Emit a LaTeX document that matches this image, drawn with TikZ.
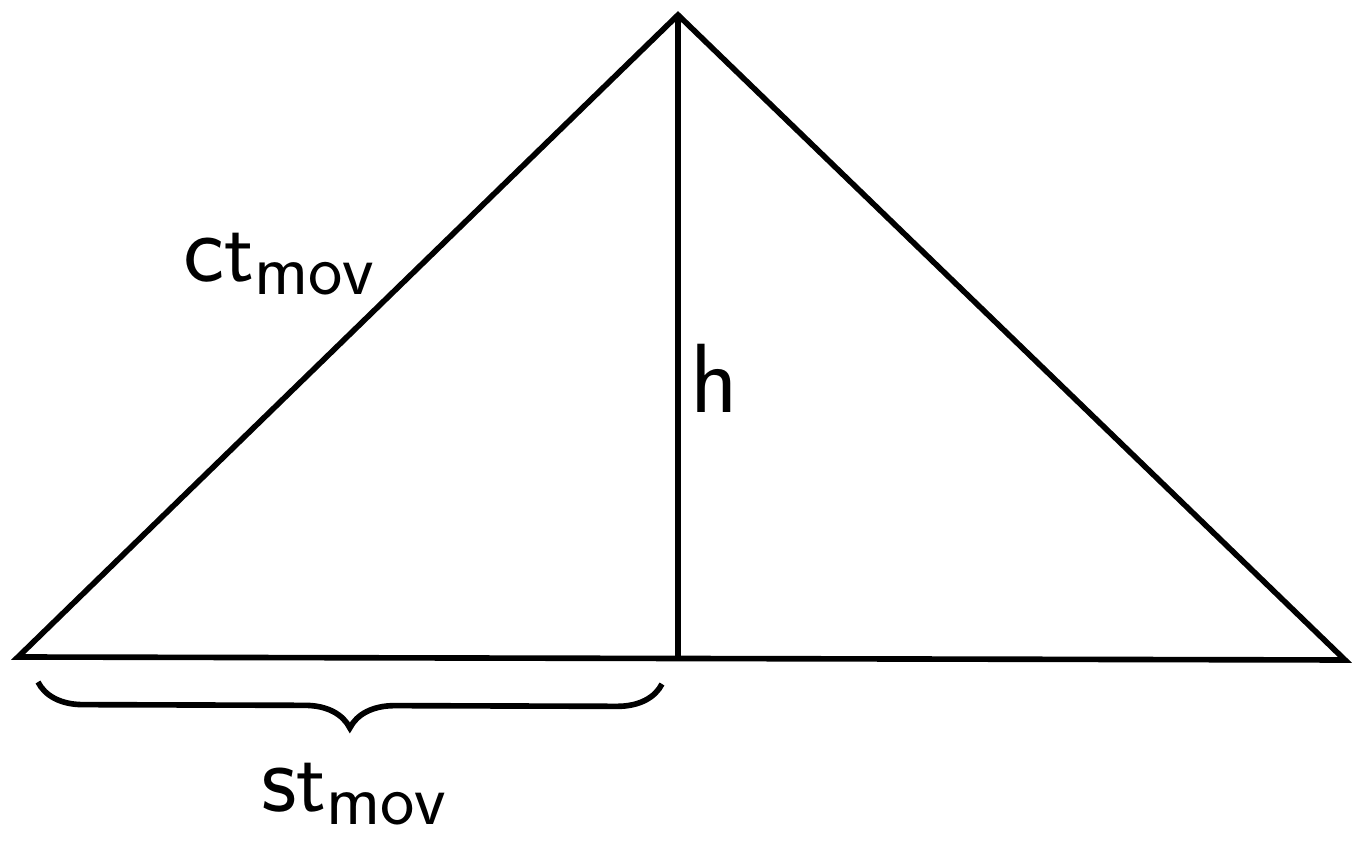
\documentclass[tikz,border=0pt]{standalone}
\usetikzlibrary{decorations.pathreplacing}
\begin{document}
\begin{tikzpicture}[line width=1.6pt]
        \useasboundingbox (0, 0) rectangle (13.54, 8.46);

        % Define the corners of the triangle
        \coordinate (left) at (0.18, 1.89);
        \coordinate (right) at (13.45, 1.86);
        \coordinate (apex) at (6.78, 8.31);
        \coordinate (foot) at (6.78, 1.88);

        % Draw the triangle and its height
        \draw (left) -- (apex) -- (right) -- cycle;
        \draw (apex) -- (foot);

        % Brace under the left part of the base
        \coordinate (braceL) at (0.38, 1.64);
        \coordinate (braceR) at (6.62, 1.62);
        \draw[decorate, decoration={brace, mirror, amplitude=0.45cm}] (braceL) -- (braceR);

        % Labels
        \node[font=\fontsize{28}{32}\selectfont\sffamily] (hyp) at (2.8, 5.82) {c$\mathsf{t}_{\mathsf{mov}}$};
        \node[font=\fontsize{28}{32}\selectfont\sffamily] (hgt) at (7.14, 4.68) {h};
        \node[font=\fontsize{28}{32}\selectfont\sffamily] (dist) at (3.55, 0.52) {s$\mathsf{t}_{\mathsf{mov}}$};

\end{tikzpicture}
\end{document}
